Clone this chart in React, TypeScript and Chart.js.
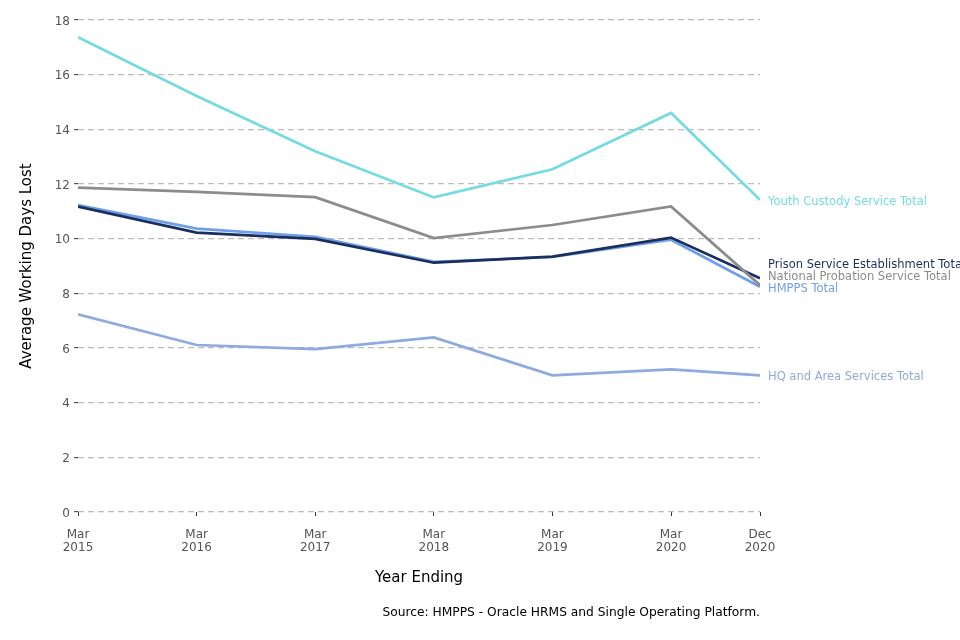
import React, { useEffect, useRef } from "react";
import { Chart, registerables } from "chart.js";

Chart.register(...registerables);

// ---- data ----
const periods = ["Mar 2015", "Mar 2016", "Mar 2017", "Mar 2018", "Mar 2019", "Mar 2020", "Dec 2020"];
const monthsFromStart = [0, 12, 24, 36, 48, 60, 69];
const tickLabels = [
  ["Mar", "2015"],
  ["Mar", "2016"],
  ["Mar", "2017"],
  ["Mar", "2018"],
  ["Mar", "2019"],
  ["Mar", "2020"],
  ["Dec", "2020"],
];
const yTicks = [0, 2, 4, 6, 8, 10, 12, 14, 16, 18];

const youthCustody = [17.37, 15.22, 13.2, 11.51, 12.54, 14.6, 11.42];
const nationalProbation = [11.87, 11.71, 11.52, 10.02, 10.5, 11.18, 8.3];
const hmppsTotal = [11.23, 10.37, 10.07, 9.15, 9.33, 9.96, 8.24];
const prisonService = [11.17, 10.22, 9.99, 9.12, 9.34, 10.04, 8.55];
const hqArea = [7.23, 6.11, 5.96, 6.39, 5.0, 5.22, 5.0];

const seriesNames = [
  "Youth Custody Service Total",
  "National Probation Service Total",
  "Prison Service Establishment Total",
  "HMPPS Total",
  "HQ and Area Services Total",
];
const seriesValues = [youthCustody, nationalProbation, prisonService, hmppsTotal, hqArea];
const seriesColors = ["#74dbe2", "#8c8c8c", "#1b2f5e", "#6f9fe8", "#8eaadf"];

const sourceText = "Source: HMPPS - Oracle HRMS and Single Operating Platform.";
const FONT = "'DejaVu Sans', sans-serif";

const endLabelsPlugin = {
  id: "endLabels",
  afterDatasetsDraw(chart: any) {
    const { ctx, chartArea } = chart;
    const items: { y: number; text: string; color: string }[] = [];
    chart.data.datasets.forEach((ds: any, i: number) => {
      const meta = chart.getDatasetMeta(i);
      const pt = meta.data[meta.data.length - 1];
      if (pt) items.push({ y: pt.y, text: ds.label, color: ds.borderColor });
    });
    items.sort((a, b) => b.y - a.y);
    const gap = 12;
    let prev = Infinity;
    items.forEach((it) => {
      const y = Math.min(it.y, prev - gap);
      it.y = y;
      prev = y;
    });
    ctx.save();
    ctx.font = `11.5px ${FONT}`;
    ctx.textAlign = "left";
    ctx.textBaseline = "middle";
    items.forEach((it) => {
      ctx.fillStyle = it.color;
      ctx.fillText(it.text, chartArea.right + 8, it.y + 2);
    });
    ctx.restore();
  },
};

const sourcePlugin = {
  id: "sourceNote",
  afterDraw(chart: any) {
    const { ctx, chartArea } = chart;
    ctx.save();
    ctx.font = `12.25px ${FONT}`;
    ctx.fillStyle = "#000";
    ctx.textAlign = "right";
    ctx.textBaseline = "middle";
    ctx.fillText(sourceText, chartArea.right, 613);
    ctx.restore();
  },
};

export default function App() {
  const canvasRef = useRef<HTMLCanvasElement | null>(null);

  useEffect(() => {
    if (!canvasRef.current) return;
    const chart = new Chart(canvasRef.current, {
      type: "line",
      data: {
        datasets: seriesNames.map((name, i) => ({
          label: name,
          data: seriesValues[i].map((v, j) => ({ x: monthsFromStart[j], y: v })),
          borderColor: seriesColors[i],
          backgroundColor: seriesColors[i],
          borderWidth: 2.7,
          pointRadius: 0,
          pointHoverRadius: 0,
          tension: 0,
          fill: false,
        })),
      },
      options: {
        animation: false,
        responsive: false,
        maintainAspectRatio: false,
        layout: { padding: { top: 20, right: 200, bottom: 0, left: 0 } },
        plugins: {
          legend: { display: false },
          tooltip: { enabled: false },
          title: { display: false },
        },
        scales: {
          x: {
            type: "linear",
            min: monthsFromStart[0],
            max: monthsFromStart[monthsFromStart.length - 1],
            afterBuildTicks: (scale: any) => {
              scale.ticks = monthsFromStart.map((v) => ({ value: v }));
            },
            afterFit: (scale: any) => {
              scale.height = 128;
            },
            border: { display: false },
            grid: {
              drawOnChartArea: false,
              drawTicks: true,
              tickLength: 4,
              tickColor: "#333",
              tickWidth: 1,
            },
            ticks: {
              autoSkip: false,
              maxRotation: 0,
              padding: 12,
              color: "#555",
              font: { family: FONT, size: 12, lineHeight: 1.1 },
              callback: (value: any) => {
                const idx = monthsFromStart.indexOf(Number(value));
                return idx >= 0 ? tickLabels[idx] : "";
              },
            },
            title: {
              display: true,
              text: "Year Ending",
              color: "#000",
              font: { family: FONT, size: 15, lineHeight: 1.2 },
              padding: { top: 0, bottom: 53 },
            },
          },
          y: {
            type: "linear",
            min: 0,
            max: 18,
            afterBuildTicks: (scale: any) => {
              scale.ticks = yTicks.map((v) => ({ value: v }));
            },
            afterFit: (scale: any) => {
              scale.width = 78;
            },
            border: { display: false, dash: [6, 4] },
            grid: {
              color: "#bdbdbd",
              lineWidth: 1.3,
              drawTicks: true,
              tickLength: 4,
              tickColor: "#333",
              tickWidth: 1,
              tickBorderDash: [],
            },
            ticks: {
              padding: 4,
              labelOffset: 1.5,
              color: "#555",
              font: { family: FONT, size: 12 },
            },
            title: {
              display: true,
              text: "Average Working Days Lost",
              color: "#000",
              font: { family: FONT, size: 15, lineHeight: 1.2 },
              padding: { top: 18, bottom: 0 },
            },
          },
        },
      },
      plugins: [endLabelsPlugin, sourcePlugin],
    });
    return () => chart.destroy();
  }, []);

  return (
    <div style={{ position: "fixed", left: 0, top: 0, width: 960, height: 640, background: "#fff" }}>
      <canvas ref={canvasRef} width={960} height={640} style={{ width: 960, height: 640, display: "block" }} />
    </div>
  );
}
